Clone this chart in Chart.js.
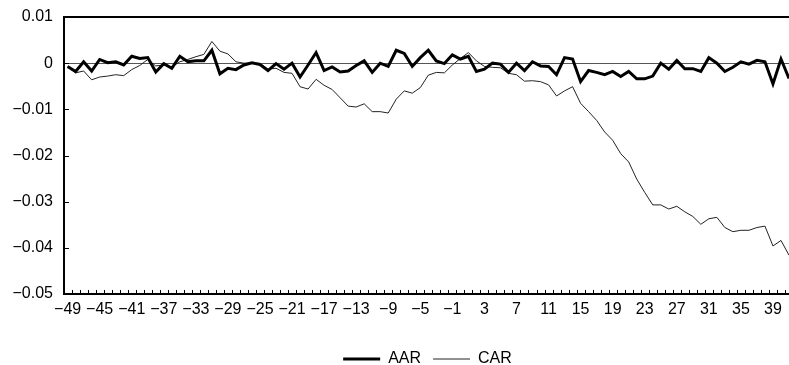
<!DOCTYPE html>
<html>
<head>
<meta charset="utf-8">
<script src="https://cdn.jsdelivr.net/npm/chart.js@4.4.1/dist/chart.umd.min.js"></script>
<style>
  html, body { margin: 0; padding: 0; background: #fff; }
  #wrap { width: 789px; height: 365px; }
</style>
</head>
<body>
<div id="wrap"><canvas id="chart" width="789" height="365"></canvas></div>
<script>
// event days
const days = [-49, -48, -47, -46, -45, -44, -43, -42, -41, -40, -39, -38, -37, -36, -35, -34,
  -33, -32, -31, -30, -29, -28, -27, -26, -25, -24, -23, -22, -21, -20, -19, -18, -17, -16,
  -15, -14, -13, -12, -11, -10, -9, -8, -7, -6, -5, -4, -3, -2, -1, 0, 1, 2, 3, 4, 5, 6, 7,
  8, 9, 10, 11, 12, 13, 14, 15, 16, 17, 18, 19, 20, 21, 22, 23, 24, 25, 26, 27, 28, 29, 30,
  31, 32, 33, 34, 35, 36, 37, 38, 39, 40, 41];

const aar = [-0.0007, -0.0018, 0.0003, -0.0017, 0.0008, 0.0001, 0.0003, -0.0004, 0.0015, 0.001,
  0.0012, -0.0019, -0.0001, -0.0011, 0.0015, 0.0003, 0.0005, 0.0005, 0.0028, -0.0023,
  -0.0011, -0.0014, -0.0004, 0.0001, -0.0003, -0.0016, -0.0001, -0.0013, 0, -0.003,
  -0.0004, 0.0023, -0.0016, -0.0008, -0.0019, -0.0017, -0.0005, 0.0005, -0.002, 0,
  -0.0007, 0.0028, 0.0021, -0.0007, 0.0012, 0.0028, 0.0005, -0.0001, 0.0018, 0.0009,
  0.0015, -0.0018, -0.0013, 0, -0.0002, -0.002, 0, -0.0016, 0.0003, -0.0006,
  -0.0007, -0.0025, 0.0012, 0.0009, -0.004, -0.0016, -0.002, -0.0025, -0.0018, -0.0029,
  -0.0018, -0.0034, -0.0034, -0.0028, 0, -0.0013, 0.0006, -0.0012, -0.0012, -0.0018,
  0.0012, 0, -0.0018, -0.0009, 0.0003, -0.0002, 0.0006, 0.0003, -0.0045, 0.0009, -0.0033];

const car = [-0.0008, -0.0021, -0.0017, -0.0036, -0.003, -0.0028, -0.0025, -0.0027, -0.0014, -0.0005,
  0.0008, -0.0006, -0.0004, -0.0008, 0.0003, 0.0008, 0.0014, 0.0019, 0.0047, 0.0026,
  0.002, 0.0003, 0, 0, 0, -0.0013, -0.0011, -0.002, -0.0022, -0.0051,
  -0.0056, -0.0035, -0.0048, -0.0057, -0.0075, -0.0093, -0.0095, -0.0088, -0.0105, -0.0105,
  -0.0108, -0.0078, -0.006, -0.0065, -0.0053, -0.0026, -0.002, -0.0021, -0.0004, 0.001,
  0.0023, 0.0005, -0.0007, -0.0009, -0.001, -0.0022, -0.0025, -0.0039, -0.0038, -0.004,
  -0.0047, -0.0071, -0.006, -0.0051, -0.0087, -0.0105, -0.0124, -0.0149, -0.0167, -0.0196,
  -0.0214, -0.0251, -0.028, -0.0307, -0.0307, -0.0316, -0.031, -0.0322, -0.0332, -0.0349,
  -0.0337, -0.0334, -0.0356, -0.0365, -0.0362, -0.0362, -0.0356, -0.0353, -0.0396, -0.0384, -0.0416];

const xTicks = [-49, -45, -41, -37, -33, -29, -25, -21, -17, -13, -9, -5, -1, 3, 7, 11, 15, 19, 23, 27, 31, 35, 39];
const yTicks = [0.01, 0, -0.01, -0.02, -0.03, -0.04, -0.05];

const fontFamily = "'Liberation Sans', Arial, sans-serif";

function fmt(v) {
  if (Math.abs(v) < 1e-9) return "0";
  return (v < 0 ? "\u2212" : "") + String(Math.round(Math.abs(v) * 1000) / 1000).replace(/^(\d+\.\d)$/, "$10");
}

// small tick marks pointing into the plot, like the original
const innerTicks = {
  id: "innerTicks",
  beforeDatasetsDraw(chart) {
    const { ctx, chartArea, scales } = chart;
    const xs = scales.x, ys = scales.y;
    ctx.save();
    ctx.strokeStyle = "#000";
    ctx.lineWidth = 1;
    ctx.beginPath();
    for (let i = 0; i < days.length; i++) {
      const p = i === 0 ? chartArea.left
        : (xs.getPixelForValue(days[i - 1]) + xs.getPixelForValue(days[i])) / 2;
      const x = Math.round(p) + 0.5;
      ctx.moveTo(x, chartArea.bottom);
      ctx.lineTo(x, chartArea.bottom - 4);
    }
    yTicks.forEach(v => {
      const y = Math.round(ys.getPixelForValue(v)) + 0.5;
      ctx.moveTo(chartArea.left, y);
      ctx.lineTo(chartArea.left + 5, y);
    });
    ctx.stroke();
    ctx.restore();
  }
};

// the original legend sits a little right of centre and lower down
const legendShift = {
  id: "legendShift",
  afterLayout(chart) {
    const lg = chart.legend;
    lg.left += 33; lg.right += 33;
    lg.top += 15; lg.bottom += 15;
  }
};

new Chart(document.getElementById("chart"), {
  type: "line",
  data: {
    datasets: [
      {
        label: "AAR",
        data: days.map((d, i) => ({ x: d, y: aar[i] })),
        borderColor: "#000",
        backgroundColor: "#000",
        borderWidth: 3,
        pointRadius: 0,
        tension: 0
      },
      {
        label: "CAR",
        data: days.map((d, i) => ({ x: d, y: car[i] })),
        borderColor: "#222",
        backgroundColor: "#222",
        borderWidth: 1,
        pointRadius: 0,
        tension: 0
      }
    ]
  },
  options: {
    responsive: false,
    animation: false,
    devicePixelRatio: 1,
    layout: { padding: { left: 0, right: 0, top: 0, bottom: 3 } },
    scales: {
      x: {
        type: "linear",
        min: -49.45,
        max: 41,
        afterBuildTicks: s => { s.ticks = xTicks.map(v => ({ value: v })); },
        afterFit: s => { s.height = 30; },
        grid: { display: false, drawTicks: false },
        border: { display: true, color: "#000", width: 2 },
        ticks: {
          autoSkip: false,
          maxRotation: 0,
          padding: 6,
          color: "#000",
          font: { family: fontFamily, size: 16 },
          callback: v => fmt(v)
        }
      },
      y: {
        min: -0.05,
        max: 0.01,
        afterBuildTicks: s => { s.ticks = yTicks.map(v => ({ value: v })); },
        afterFit: s => { s.width = 64; s.paddingTop = 17; },
        grid: {
          drawTicks: false,
          color: c => Math.abs(c.tick.value) < 1e-9 ? "#555" : (c.tick.value > 0.005 ? "#000" : "rgba(0,0,0,0)"),
          lineWidth: c => c.tick.value > 0.005 ? 2 : 1
        },
        border: { display: true, color: "#000", width: 2 },
        ticks: {
          padding: 11,
          color: "#000",
          font: { family: fontFamily, size: 16 },
          callback: v => fmt(v)
        }
      }
    },
    plugins: {
      legend: {
        position: "bottom",
        labels: {
          usePointStyle: true,
          pointStyle: "line",
          pointStyleWidth: 37,
          padding: 12,
          color: "#000",
          font: { family: fontFamily, size: 16 }
        }
      },
      tooltip: { enabled: false }
    }
  },
  plugins: [innerTicks, legendShift]
});
</script>
</body>
</html>
